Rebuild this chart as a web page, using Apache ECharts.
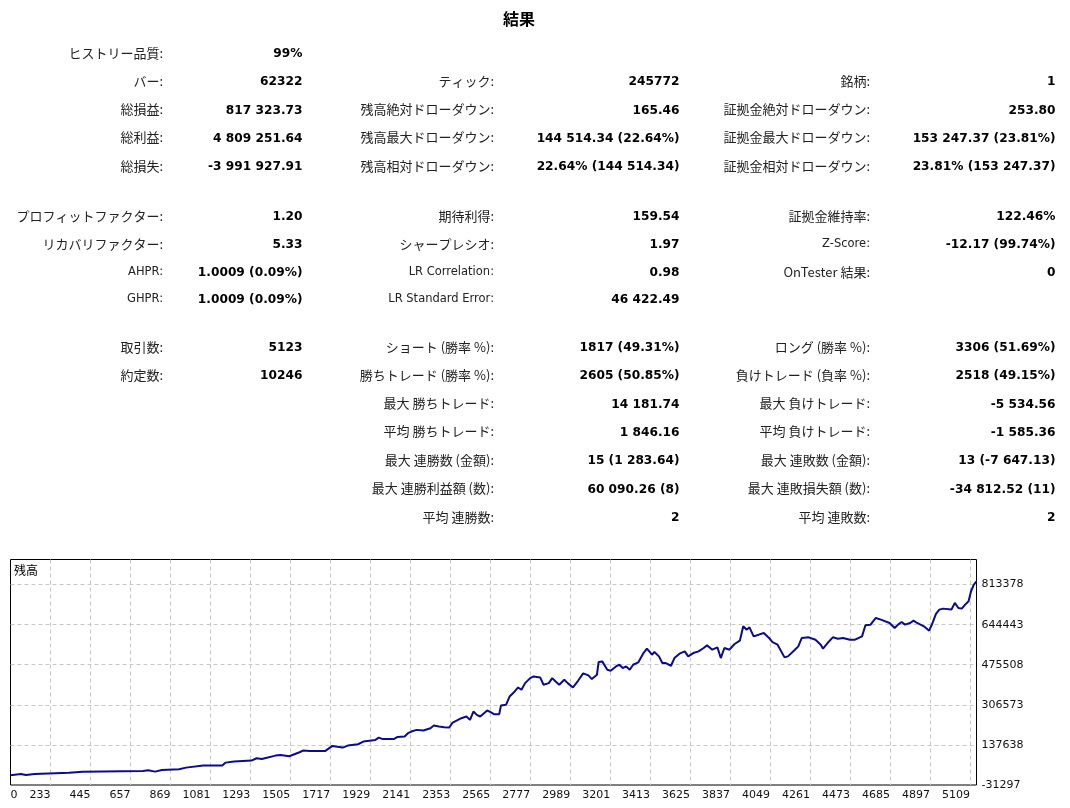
<!DOCTYPE html>
<html>
<head>
<meta charset="utf-8">
<title>結果</title>
<script src="https://cdn.jsdelivr.net/npm/echarts@6.0.0/dist/echarts.min.js"></script>
<style>
	html, body { margin: 0; padding: 0; background: #fff; }
	#main { width: 1070px; height: 808px; }
</style>
</head>
<body>
<div id="main"></div>
<script>
// 統計 (3列)
var statLabels1 = ['ヒストリー品質:', 'バー:', '総損益:', '総利益:', '総損失:',
	'プロフィットファクター:', 'リカバリファクター:', 'AHPR:', 'GHPR:',
	'取引数:', '約定数:', '', '', '', '', ''];
var statValues1 = ['99%', '62322', '817 323.73', '4 809 251.64', '-3 991 927.91',
	'1.20', '5.33', '1.0009 (0.09%)', '1.0009 (0.09%)',
	'5123', '10246', '', '', '', '', ''];
var statLabels2 = ['', 'ティック:', '残高絶対ドローダウン:', '残高最大ドローダウン:', '残高相対ドローダウン:',
	'期待利得:', 'シャープレシオ:', 'LR Correlation:', 'LR Standard Error:',
	'ショート (勝率 %):', '勝ちトレード (勝率 %):', '最大 勝ちトレード:', '平均 勝ちトレード:',
	'最大 連勝数 (金額):', '最大 連勝利益額 (数):', '平均 連勝数:'];
var statValues2 = ['', '245772', '165.46', '144 514.34 (22.64%)', '22.64% (144 514.34)',
	'159.54', '1.97', '0.98', '46 422.49',
	'1817 (49.31%)', '2605 (50.85%)', '14 181.74', '1 846.16',
	'15 (1 283.64)', '60 090.26 (8)', '2'];
var statLabels3 = ['', '銘柄:', '証拠金絶対ドローダウン:', '証拠金最大ドローダウン:', '証拠金相対ドローダウン:',
	'証拠金維持率:', 'Z-Score:', 'OnTester 結果:', '',
	'ロング (勝率 %):', '負けトレード (負率 %):', '最大 負けトレード:', '平均 負けトレード:',
	'最大 連敗数 (金額):', '最大 連敗損失額 (数):', '平均 連敗数:'];
var statValues3 = ['', '1', '253.80', '153 247.37 (23.81%)', '23.81% (153 247.37)',
	'122.46%', '-12.17 (99.74%)', '0', '',
	'3306 (51.69%)', '2518 (49.15%)', '-5 534.56', '-1 585.36',
	'13 (-7 647.13)', '-34 812.52 (11)', '2'];

// 残高グラフ
var trades = [0, 55, 82, 128, 310, 383, 703, 730, 767, 803,
	894, 931, 1022, 1123, 1141, 1186, 1278, 1305, 1333, 1405,
	1433, 1478, 1533, 1551, 1588, 1670, 1707, 1761, 1771, 1789,
	1843, 1871, 1935, 1953, 1971, 2035, 2053, 2090, 2108, 2126,
	2154, 2190, 2227, 2245, 2272, 2300, 2327, 2345, 2391, 2418,
	2437, 2455, 2473, 2491, 2528, 2546, 2564, 2592, 2601, 2628,
	2647, 2674, 2692, 2710, 2729, 2756, 2774, 2809, 2827, 2855,
	2873, 2891, 2910, 2937, 2955, 2983, 3010, 3037, 3065, 3083,
	3110, 3119, 3138, 3165, 3183, 3211, 3229, 3247, 3265, 3284,
	3302, 3329, 3357, 3375, 3402, 3415, 3439, 3457, 3475, 3503,
	3521, 3548, 3576, 3594, 3621, 3649, 3676, 3694, 3722, 3749,
	3767, 3786, 3813, 3840, 3868, 3886, 3904, 3919, 3941, 3968,
	3995, 4023, 4041, 4068, 4105, 4123, 4160, 4178, 4196, 4233,
	4269, 4297, 4309, 4333, 4361, 4388, 4415, 4452, 4479, 4516,
	4534, 4561, 4589, 4616, 4662, 4689, 4707, 4726, 4744, 4771,
	4789, 4808, 4844, 4872, 4890, 4908, 4926, 4945, 4990, 5008,
	5027, 5045, 5063, 5081, 5094, 5109, 5123];
var balances = [10000, 15200, 10900, 15200, 20800, 25000, 27800, 30600, 25000, 32100,
	34900, 41900, 50400, 50400, 63000, 67300, 71500, 81300, 78500, 92600,
	95400, 89800, 106700, 113700, 112300, 112300, 133400, 126400, 123600, 134800,
	140500, 151700, 158800, 168600, 163000, 163000, 171400, 172800, 186900, 194000,
	201000, 198200, 208000, 219300, 215100, 212300, 210800, 232000, 250300, 257300,
	243200, 278400, 264300, 257300, 282600, 275600, 267200, 267200, 303800, 306600,
	341800, 362900, 379800, 369900, 398100, 419200, 426200, 422000, 391000, 398100,
	419200, 405100, 391000, 412200, 398100, 379800, 407900, 438900, 430500, 415000,
	433300, 486800, 489600, 454400, 450200, 468500, 475500, 461400, 468500, 454400,
	475500, 485400, 524800, 543100, 517700, 529000, 510700, 482600, 482600, 471300,
	503700, 522000, 531800, 510700, 524800, 531800, 545900, 557200, 538900, 548700,
	503700, 545900, 538900, 562800, 576900, 637400, 623300, 633200, 595200, 602200,
	609300, 588100, 571200, 560000, 506500, 510700, 538900, 552900, 588100, 591000,
	581100, 560000, 543100, 567000, 591000, 585300, 588100, 581100, 581100, 595200,
	641600, 644500, 672600, 665600, 651500, 630400, 644500, 655700, 644500, 651500,
	661300, 651500, 637400, 619100, 651500, 689500, 707800, 712000, 707800, 736000,
	714800, 712000, 728900, 743000, 785200, 813400, 827300];
var xTickLabels = ['0', '233', '445', '657', '869', '1081', '1293', '1505', '1717', '1929',
	'2141', '2353', '2565', '2777', '2989', '3201', '3413', '3625', '3837', '4049',
	'4261', '4473', '4685', '4897', '5109'];
var yTickValues = [-31297, 137638, 306573, 475508, 644443, 813378];

(function(doc) {
	var rowY = [52, 80, 108.5, 136.5, 165, 215, 243, 271, 298, 346, 374, 402.5, 430.5, 459, 487.5, 516];
	var labelRight = [163, 494, 870];
	var valueRight = [302.5, 679.5, 1055.5];
	var labelCols = [statLabels1, statLabels2, statLabels3];
	var valueCols = [statValues1, statValues2, statValues3];
	var cjk = /[\u3040-\u30ff\u4e00-\u9fff]/;
	var xStep = 212;

	// グリッド位置 (x: 212 刻み, 枠線上は除く)
	var xGridValues = [], xLabelValues = [];
	for(var k = 0; k < xTickLabels.length; k++) {
		xLabelValues.push(k * xStep);
		if(k > 0) {
			xGridValues.push(k * xStep);
		}
	}
	var yGridValues = yTickValues.filter(function(v) {
		return v !== yTickValues[0];
	});

	var graphic = [{
		type: 'text',
		x: 519,
		y: 19,
		style: {
			text: '結果',
			font: 'bold 16px "Noto Sans CJK JP"',
			fill: '#000',
			align: 'center',
			verticalAlign: 'middle'
		}
	}, {
		type: 'text',
		x: 14,
		y: 570,
		z: 10,
		style: {
			text: '残高',
			font: '12px "Noto Sans CJK JP"',
			fill: '#000',
			align: 'left',
			verticalAlign: 'middle'
		}
	}];

	for(var c = 0; c < 3; c++) {
		for(var r = 0; r < rowY.length; r++) {
			var lab = labelCols[c][r];
			var val = valueCols[c][r];
			if(lab) {
				var isJp = cjk.test(lab);
				graphic.push({
					type: 'text',
					x: labelRight[c],
					y: rowY[r] + (isJp ? 0.8 : 1.5),
					style: {
						text: lab,
						font: isJp ? '13px "Noto Sans CJK JP"' : '11.5px "DejaVu Sans"',
						fill: '#222',
						align: 'right',
						verticalAlign: 'middle'
					}
				});
			}
			if(val) {
				graphic.push({
					type: 'text',
					x: valueRight[c],
					y: rowY[r] + 2,
					style: {
						text: val,
						font: 'bold 12.2px "DejaVu Sans"',
						fill: '#000',
						align: 'right',
						verticalAlign: 'middle'
					}
				});
			}
		}
	}

	var lineData = [];
	for(var i = 0; i < trades.length; i++) {
		lineData.push([trades[i], balances[i]]);
	}

	var option = {
		animation: false,
		backgroundColor: '#fff',
		grid: {
			left: 10.5,
			right: 93.5,
			top: 559.5,
			bottom: 23,
			show: true,
			borderColor: '#000',
			borderWidth: 1,
			backgroundColor: 'transparent'
		},
		xAxis: {
			type: 'value',
			min: 0,
			max: 5123,
			axisLine: { show: false },
			axisTick: { show: false, customValues: xGridValues },
			splitLine: {
				show: true,
				lineStyle: { color: '#c8c8c8', type: [4, 3], width: 1 }
			},
			axisLabel: {
				show: true,
				customValues: xLabelValues,
				align: 'right',
				alignMinLabel: 'left',
				margin: 5,
				fontFamily: 'DejaVu Sans',
				fontSize: 11,
				color: '#111',
				formatter: function(v) {
					var n = Math.round(v / xStep);
					return xTickLabels[n] || '';
				}
			}
		},
		yAxis: {
			type: 'value',
			position: 'right',
			min: -31297,
			max: 919000,
			axisLine: { show: false },
			axisTick: { show: false, customValues: yGridValues },
			splitLine: {
				show: true,
				lineStyle: { color: '#c8c8c8', type: [4, 3], width: 1 }
			},
			axisLabel: {
				customValues: yTickValues,
				margin: 5,
				fontFamily: 'DejaVu Sans',
				fontSize: 11,
				color: '#111',
				formatter: function(v) {
					return String(v);
				}
			}
		},
		series: [{
			name: '残高',
			type: 'line',
			data: lineData,
			showSymbol: false,
			symbol: 'none',
			smooth: false,
			lineStyle: { color: '#0b0b8b', width: 2 },
			z: 3
		}],
		graphic: graphic
	};

	var chart = echarts.init(doc.getElementById('main'), null, { renderer: 'canvas' });
	chart.setOption(option);
})(document);
</script>
</body>
</html>
